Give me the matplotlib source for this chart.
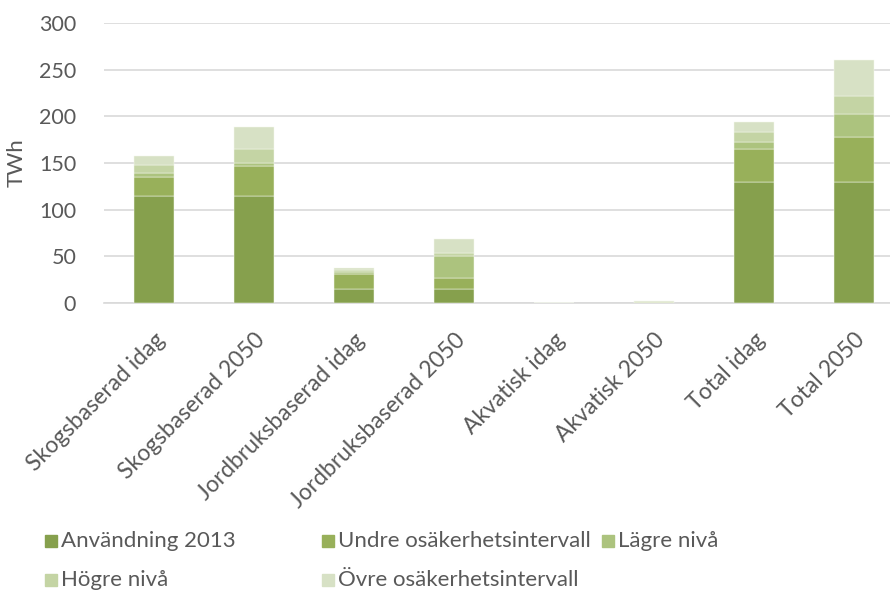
import numpy as np
import matplotlib.pyplot as plt
from matplotlib.patches import Rectangle

# kategorier och serier (TWh)
categories = ['Skogsbaserad idag', 'Skogsbaserad 2050', 'Jordbruksbaserad idag',
              'Jordbruksbaserad 2050', 'Akvatisk idag', 'Akvatisk 2050',
              'Total idag', 'Total 2050']
anvandning = [115, 115, 15, 15, 0, 0, 130, 130]
undre = [20, 32, 16, 12, 0, 0, 35, 48]
lagre = [4, 3, 2, 23, 0, 0.5, 7, 24]
hogre = [9, 15, 2, 4, 0, 0.5, 11, 20]
ovre = [9, 24, 2, 15, 0, 1.5, 11, 38]

series_names = ['Användning 2013', 'Undre osäkerhetsintervall', 'Lägre nivå',
                'Högre nivå', 'Övre osäkerhetsintervall']
series_values = [anvandning, undre, lagre, hogre, ovre]
colors = ['#86A04D', '#98B05A', '#ACC37E', '#C4D4A4', '#D7E1C5']
yticks = [0, 50, 100, 150, 200, 250, 300]

plt.rcParams['font.family'] = ['Lato', 'DejaVu Sans']
text_color = '#595959'
grid_color = '#D9D9D9'

fig = plt.figure(figsize=(8.9, 5.93), dpi=100)
ax = fig.add_axes([104 / 890, (593 - 303) / 593, 800 / 890, 280 / 593])

x = np.arange(len(categories))
bottom = np.zeros(len(categories))
for name, vals, c in zip(series_names, series_values, colors):
    ax.bar(x, vals, width=0.4, bottom=bottom, color=c, edgecolor='#F4F7EE',
           linewidth=0.35, label=name, zorder=3)
    bottom += np.array(vals)

ax.set_xlim(-0.5, 7.5)
ax.set_ylim(0, 300)
ax.set_yticks(yticks)
ax.yaxis.grid(True, color=grid_color, linewidth=1.2, zorder=0)
for s in ['top', 'right', 'left']:
    ax.spines[s].set_visible(False)
ax.spines['bottom'].set_color(grid_color)
ax.spines['bottom'].set_linewidth(1.2)
ax.tick_params(axis='both', length=0, colors=text_color)
ax.tick_params(axis='y', pad=20, labelsize=15.5)
ax.set_xticks(x)
ax.set_xticklabels(categories, rotation=45, ha='right', rotation_mode='anchor')
ax.tick_params(axis='x', pad=19, labelsize=16.5)
ax.set_ylabel('TWh', fontsize=16, color=text_color, labelpad=9)

# förklaring i två rader
legend_pos = [(45, 541), (322, 541), (602, 541), (45, 580), (322, 580)]
for (px, py), name, c in zip(legend_pos, series_names, colors):
    fig.patches.append(Rectangle((px / 890, (593 - py - 6) / 593), 12 / 890, 12 / 593,
                                 transform=fig.transFigure, color=c, figure=fig))
    fig.text((px + 16) / 890, (593 - py) / 593, name, fontsize=16,
             color=text_color, va='center', ha='left')

fig.savefig('out.png', dpi=100)
